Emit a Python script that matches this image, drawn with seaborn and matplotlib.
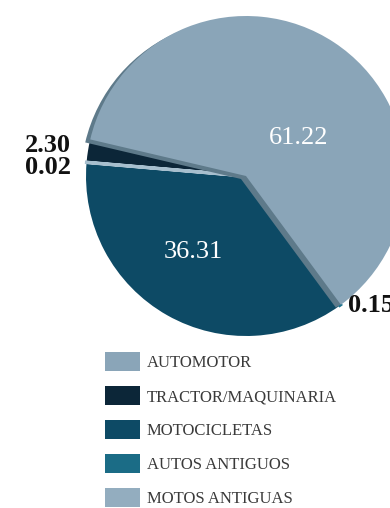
import matplotlib
matplotlib.use("Agg")
import matplotlib.pyplot as plt
from matplotlib.patches import Patch
import seaborn as sns

# Vehicle categories (legend order) and their share in percent
categories = ["AUTOMOTOR", "TRACTOR/MAQUINARIA", "MOTOCICLETAS",
              "AUTOS ANTIGUOS", "MOTOS ANTIGUAS"]
shares = [61.22, 2.30, 36.31, 0.15, 0.02]
colors = ["#8aa5b8", "#0c2638", "#0d4a65", "#1b6c86", "#93adbf"]

# Order in which the wedges run counter-clockwise around the pie
wedge_order = [0, 1, 4, 2, 3]

sns.set_theme(style="white")
plt.rcParams["font.family"] = ["Liberation Serif", "DejaVu Serif"]

W, H = 390, 508
fig = plt.figure(figsize=(W / 100, H / 100), dpi=100)
ax = fig.add_axes([0, 0, 1, 1])

cx, cy, r = 246, 332, 160
start = -53.6
vals = [shares[i] for i in wedge_order]
cols = [colors[i] for i in wedge_order]

# Side wall of the raised AUTOMOTOR wedge
shadow_cols = ["#5e7a8a" if i == 0 else "none" for i in wedge_order]
sw, _ = ax.pie(vals, colors=shadow_cols, startangle=start, counterclock=True,
               center=(cx - 5, cy - 3), radius=r,
               wedgeprops=dict(linewidth=0))
for w in sw:
    w.set_zorder(2)

edge = {0: "none", 1: "none", 2: "none", 3: "#1f7590", 4: "#a7bfce"}
lw = {0: 0, 1: 0, 2: 0, 3: 2.0, 4: 2.4}
wedges, _ = ax.pie(vals, colors=cols, startangle=start, counterclock=True,
                   center=(cx, cy), radius=r)
for w, i in zip(wedges, wedge_order):
    w.set_edgecolor(edge[i])
    w.set_linewidth(lw[i])
    w.set_zorder(3 if i == 0 else 1)
    if i in (3, 4):
        w.set_zorder(1.5)

# pixel-like data coordinates (pie() resets the limits, so set them after)
ax.set_xlim(0, W)
ax.set_ylim(0, H)
ax.set_aspect("equal")
ax.axis("off")

fmt = "{:.2f}".format
ax.text(299, 370, fmt(shares[0]), color="white", fontsize=19,
        ha="center", va="center", zorder=5)
ax.text(193, 256, fmt(shares[2]), color="white", fontsize=19,
        ha="center", va="center", zorder=5)
ax.text(48, 362, fmt(shares[1]), color="#111111", fontsize=19,
        fontweight="bold", ha="center", va="center", zorder=5)
ax.text(48, 341, fmt(shares[4]), color="#111111", fontsize=19,
        fontweight="bold", ha="center", va="center", zorder=5)
ax.text(348, 202, fmt(shares[3]), color="#111111", fontsize=19,
        fontweight="bold", ha="left", va="center", zorder=5)

handles = [Patch(facecolor=c, edgecolor="none") for c in colors]
fs = 12
em = fs * 100 / 72
leg = ax.legend(handles, categories, loc="upper left",
                bbox_to_anchor=(105 / W, 1 - 352 / H),
                bbox_transform=fig.transFigure,
                frameon=False, fontsize=fs, borderpad=0, borderaxespad=0,
                handlelength=35 / em, handleheight=1.42,
                handletextpad=7 / em, labelspacing=0.87)
for t in leg.get_texts():
    t.set_color("#3a3a3a")

fig.savefig("out.png", dpi=100, facecolor="white")
